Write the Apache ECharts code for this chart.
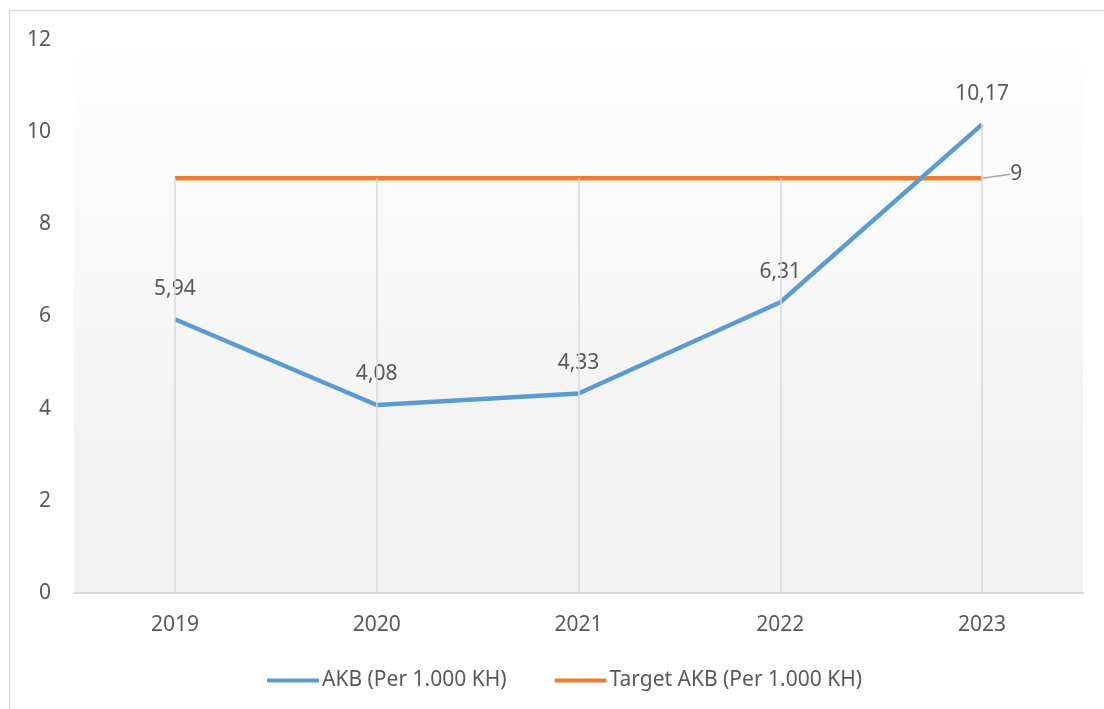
<!DOCTYPE html>
<html>
<head>
<meta charset="utf-8">
<script src="https://cdn.jsdelivr.net/npm/echarts@6/dist/echarts.min.js"></script>
<style>
html, body { margin: 0; padding: 0; background: #fff; }
#main { width: 1104px; height: 709px; }
</style>
</head>
<body>
<div id="main"></div>
<script>
// data
var years = ['2019', '2020', '2021', '2022', '2023'];
var akb = [5.94, 4.08, 4.33, 6.31, 10.17];
var target = [9, 9, 9, 9, 9];
var yTicks = [0, 2, 4, 6, 8, 10, 12];

var txtColor = '#595959';
var font = 'Noto Sans';
var fs = 21;

// drop lines: from the higher series value down to the axis
var dropLines = years.map(function (y, i) {
    return [{ coord: [y, Math.max(akb[i], target[i])] }, { coord: [y, 0] }];
});

var myChart = echarts.init(document.getElementById('main'));
var option = {
    backgroundColor: '#fff',
    animation: false,
    textStyle: { fontFamily: font },
    graphic: [{
        type: 'rect',
        shape: { x: 9.5, y: 10.5, width: 1200, height: 800 },
        style: { fill: 'none', stroke: '#d9d9d9', lineWidth: 1.5 },
        z: -1
    }],
    grid: {
        left: 74, right: 21, top: 40, bottom: 116,
        show: true,
        borderWidth: 0,
        backgroundColor: new echarts.graphic.LinearGradient(0, 0, 0, 1, [
            { offset: 0, color: '#ffffff' },
            { offset: 0.75, color: '#f2f2f2' },
            { offset: 1, color: '#f2f2f2' }
        ])
    },
    legend: {
        bottom: 18,
        left: 267,
        itemGap: 48,
        itemWidth: 52,
        itemHeight: 4,
        padding: 0,
        data: [
            { name: 'AKB (Per 1.000 KH)', icon: 'roundRect' },
            { name: 'Target AKB (Per 1.000 KH)', icon: 'roundRect' }
        ],
        textStyle: { color: txtColor, fontSize: fs, fontFamily: font, padding: [0, 0, 0, -2] }
    },
    xAxis: {
        type: 'category',
        data: years,
        boundaryGap: true,
        axisLine: { lineStyle: { color: '#d9d9d9', width: 2 } },
        axisTick: { show: false },
        splitLine: { show: false },
        axisLabel: { color: txtColor, fontSize: fs, margin: 22 }
    },
    yAxis: {
        type: 'value',
        min: yTicks[0],
        max: yTicks[yTicks.length - 1],
        interval: 2,
        axisLine: { show: false },
        axisTick: { show: false },
        splitLine: { show: false },
        axisLabel: { color: txtColor, fontSize: fs, margin: 23 }
    },
    series: [
        {
            name: 'drop',
            type: 'line',
            data: [],
            z: 1,
            silent: true,
            markLine: {
                silent: true,
                symbol: ['none', 'none'],
                label: { show: false },
                lineStyle: { color: '#d9d9d9', width: 1.5, type: 'solid' },
                data: dropLines
            }
        },
        {
            name: 'Target AKB (Per 1.000 KH)',
            type: 'line',
            data: target,
            z: 3,
            showSymbol: true,
            symbol: 'circle',
            symbolSize: 0.1,
            color: '#ed7d31',
            lineStyle: { color: '#ed7d31', width: 4.5 },
            label: {
                show: true,
                position: 'right',
                distance: 0,
                color: txtColor,
                fontSize: fs,
                formatter: function (p) {
                    return p.dataIndex === years.length - 1 ? String(p.value).replace('.', ',') : '';
                }
            },
            labelLayout: function (params) {
                if (params.dataIndex !== years.length - 1) return {};
                return { dx: 28, dy: -4 };
            },
            labelLine: { show: true, lineStyle: { color: '#a6a6a6', width: 1.5 } }
        },
        {
            name: 'AKB (Per 1.000 KH)',
            type: 'line',
            data: akb,
            z: 4,
            showSymbol: true,
            symbol: 'circle',
            symbolSize: 0.1,
            color: '#5b9bd5',
            lineStyle: { color: '#5b9bd5', width: 4.5 },
            label: {
                show: true,
                position: 'top',
                distance: 20,
                color: txtColor,
                fontSize: fs,
                formatter: function (p) {
                    return p.value.toFixed(2).replace('.', ',');
                }
            }
        }
    ]
};
myChart.setOption(option);
</script>
</body>
</html>
